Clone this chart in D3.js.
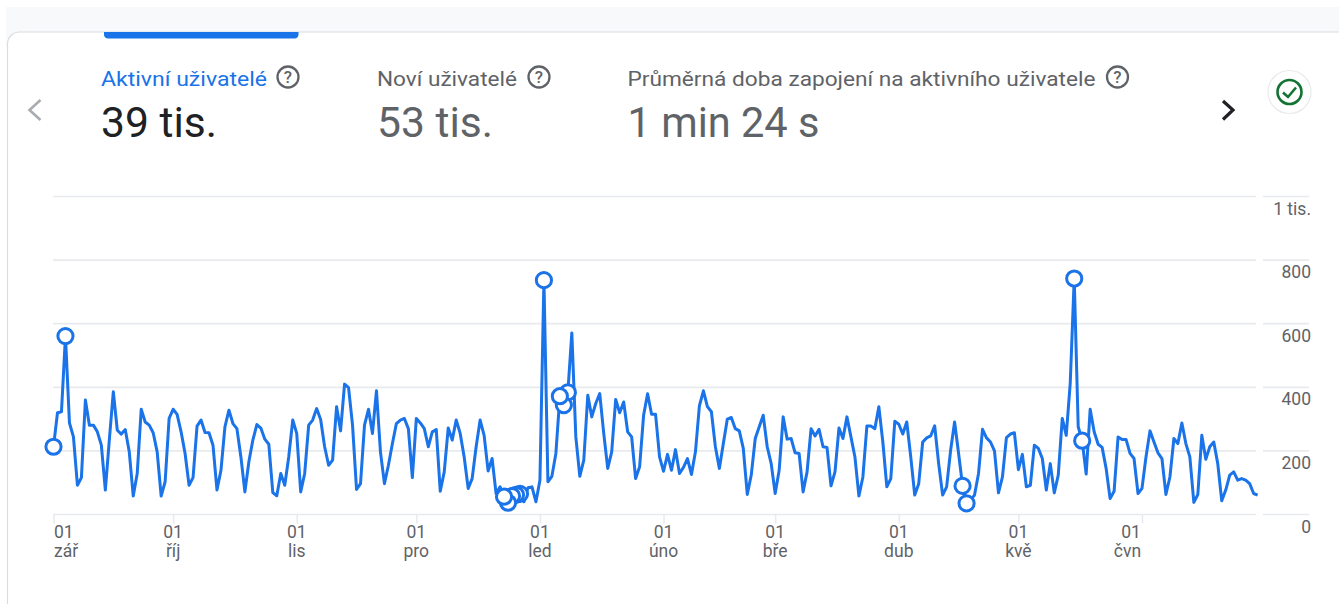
<!DOCTYPE html>
<html lang="cs">
<head>
<meta charset="utf-8">
<style>
html,body{margin:0;padding:0;background:#fff;overflow:hidden}
svg{display:block}
text{font-family:Roboto,"Noto Sans",sans-serif}
</style>
<script src="https://cdn.jsdelivr.net/npm/d3@7"></script>
</head>
<body>
<svg id="chart" width="1339" height="604"></svg>
<script>
const startDate = "2022-09-01";
const activeUsers = [
213,320,323,561,288,244,92,116,360,281,281,260,218,77,234,386,265,253,267,197,58,129,331,291,281,257,197,58,103,302,
331,315,260,192,92,116,278,297,258,257,218,77,139,276,328,286,270,181,71,166,234,283,272,237,221,69,59,129,92,181,
297,255,71,129,281,297,333,299,213,155,171,339,263,410,399,281,79,97,281,331,255,389,197,97,155,223,286,297,302,270,
116,302,288,270,213,260,267,73,134,272,234,297,255,181,82,113,213,297,249,137,176,66,87,56,37,58,62,65,40,84,
87,40,108,737,103,120,192,372,344,384,571,244,120,171,375,307,349,380,255,145,197,362,320,354,260,244,113,150,312,380,
315,315,181,136,189,139,204,129,148,176,126,197,342,389,339,323,213,145,223,300,305,270,263,208,63,124,239,276,312,213,
160,66,139,307,237,239,194,192,71,134,270,247,268,213,211,90,134,272,239,307,244,181,58,118,278,278,270,339,228,87,
113,293,284,253,291,181,61,97,228,241,247,279,160,61,87,202,291,192,90,35,45,61,129,268,241,228,200,68,118,242,
253,257,141,189,87,92,218,208,176,77,160,68,124,302,249,412,742,276,232,127,331,260,221,211,145,50,73,244,236,236,
192,176,66,82,181,263,228,194,176,63,118,239,223,288,223,181,38,63,249,174,213,228,160,43,77,124,134,108,113,108,
97,66,61];
const markedDays = [0,3,113,114,115,116,117,123,127,128,129,228,229,256,258];
const yTicks = [0,200,400,600,800,1000];
const yTickLabels = ["0","200","400","600","800","1 tis."];
const monthStarts = ["2022-09-01","2022-10-01","2022-11-01","2022-12-01","2023-01-01","2023-02-01","2023-03-01","2023-04-01","2023-05-01","2023-06-01"];
const monthDay = ["01","01","01","01","01","01","01","01","01","01"];
const monthNames = ["zář","říj","lis","pro","led","úno","bře","dub","kvě","čvn"];
const metricNames = ["Aktivní uživatelé","Noví uživatelé","Průměrná doba zapojení na aktivního uživatele"];
const metricValues = ["39 tis.","53 tis.","1 min 24 s"];

const BLUE="#1a73e8", GREY="#5f6368", GRID="#e8eaed";
const svg=d3.select("#chart");
const parse=d3.utcParse("%Y-%m-%d");
const t0=parse(startDate);
const dates=activeUsers.map((_,i)=>d3.utcDay.offset(t0,i));

const x=d3.scaleUtc().domain([t0,d3.utcDay.offset(t0,273)]).range([53.5,1142]);
const y=d3.scaleLinear().domain([0,1000]).range([514.5,196.5]);

// page chrome
svg.append("rect").attr("x",6).attr("y",7).attr("width",1333).attr("height",40).attr("fill","#f8f9fa");
svg.append("path").attr("d","M7.5,620V44a12,12 0 0 1 12,-12H1345V620Z").attr("fill","#fff").attr("stroke","#dadce0").attr("stroke-width",1.2);
svg.append("path").attr("d","M104,32H298.5V34a4,4 0 0 1 -4,4.5H108a4,4 0 0 1 -4,-4.5Z").attr("fill",BLUE);

// metric headers
const metricX=[101,377,627.5], helpX=[288,539,1117.5], nameW=[166,140,468], valW=[116,116,192];
const mg=svg.append("g");
metricNames.forEach((n,i)=>{
  const col=i===0?BLUE:GREY;
  mg.append("text").attr("x",metricX[i]).attr("y",86).attr("font-size",21)
    .attr("textLength",nameW[i]).attr("lengthAdjust","spacingAndGlyphs").attr("fill",col).text(n);
  mg.append("text").attr("x",metricX[i]).attr("y",137).attr("font-size",43).attr("textLength",valW[i]).attr("lengthAdjust","spacingAndGlyphs")
    .attr("fill",i===0?"#202124":GREY).text(metricValues[i]);
  mg.append("circle").attr("cx",helpX[i]).attr("cy",77).attr("r",10.5).attr("fill","none").attr("stroke",GREY).attr("stroke-width",2.3);
  mg.append("text").attr("x",helpX[i]).attr("y",83).attr("text-anchor","middle").attr("font-size",17).attr("font-weight",500).attr("fill",GREY).text("?");
});
// chevrons
svg.append("path").attr("d","M40.5,100L29.5,110L40.5,120").attr("fill","none").attr("stroke","#a8abaf").attr("stroke-width",2.6);
svg.append("path").attr("d","M1223,101L1233,110L1223,119.5").attr("fill","none").attr("stroke","#202124").attr("stroke-width",3.2);
// status badge
svg.append("circle").attr("cx",1289.5).attr("cy",92).attr("r",21.5).attr("fill","#fff").attr("stroke","#e8eaed").attr("stroke-width",1.2);
svg.append("circle").attr("cx",1289.5).attr("cy",92).attr("r",12).attr("fill","none").attr("stroke","#137333").attr("stroke-width",2.6);
svg.append("path").attr("d","M1283,92.5L1288,97L1296,87.5").attr("fill","none").attr("stroke","#137333").attr("stroke-width",2.6);

// grid
const grid=svg.append("g");
yTicks.forEach(v=>{
  grid.append("line").attr("x1",53).attr("x2",1256).attr("y1",y(v)).attr("y2",y(v)).attr("stroke",GRID).attr("stroke-width",1.7);
  grid.append("line").attr("x1",1263).attr("x2",1309).attr("y1",y(v)).attr("y2",y(v)).attr("stroke",GRID).attr("stroke-width",1.7);
});

// y axis
const yAxis=d3.axisRight(y).tickValues(yTicks).tickFormat((d,i)=>yTickLabels[i]).tickSize(0).tickPadding(0);
const gy=svg.append("g").attr("transform","translate(1311,0)").call(yAxis);
gy.select(".domain").remove();
gy.selectAll("text").attr("x",0).attr("dy",0).attr("y",17.5).attr("text-anchor","end").attr("font-size",17.5).attr("fill",GREY)
  .style("font-family","Roboto,sans-serif");

// x axis
const monthDates=monthStarts.map(parse);
const xAxis=d3.axisBottom(x).tickValues(monthDates).tickFormat(()=>"").tickSize(9);
const gx=svg.append("g").attr("transform","translate(0,514.5)").call(xAxis);
gx.select(".domain").remove();
gx.selectAll("line").attr("stroke",GRID).attr("stroke-width",1.5);
const xl=svg.append("g").attr("fill",GREY).attr("font-size",17.5);
monthDates.forEach((d,i)=>{
  const last=i===monthDates.length-1;
  const a=i===0?"start":"middle";
  const px=x(d)+(i===0?0.5:0);
  xl.append("text").attr("x",last?px-11:px).attr("y",538).attr("text-anchor",a).text(monthDay[i]);
  xl.append("text").attr("x",last?px-14.5:px).attr("y",557).attr("text-anchor",a).text(monthNames[i]);
});

// line
const line=d3.line().x((d,i)=>x(dates[i])).y(d=>y(d));
svg.append("path").datum(activeUsers).attr("d",line).attr("fill","none").attr("stroke",BLUE).attr("stroke-width",3).attr("stroke-linejoin","round");

// anomaly markers (earlier days sit on top)
svg.append("g").selectAll("circle").data(markedDays.slice().reverse()).join("circle")
  .attr("cx",d=>x(dates[d])).attr("cy",d=>y(activeUsers[d])).attr("r",7.6)
  .attr("fill","#fff").attr("stroke",BLUE).attr("stroke-width",3);
</script>
</body>
</html>
